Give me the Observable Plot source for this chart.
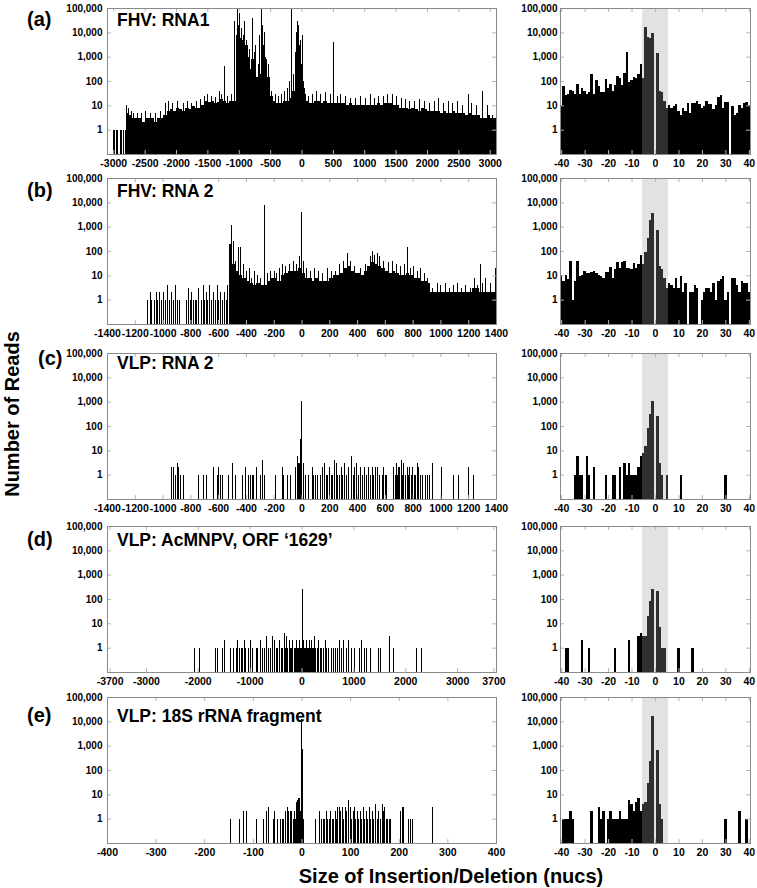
<!DOCTYPE html>
<html>
<head>
<meta charset="utf-8">
<script src="https://cdn.jsdelivr.net/npm/d3@7"></script>
<script src="https://cdn.jsdelivr.net/npm/@observablehq/plot@0.6"></script>
<style>
  html,body{margin:0;padding:0;background:#fff;}
  #wrap{position:relative;width:757px;height:888px;overflow:hidden;font-family:"Liberation Sans",Arial,sans-serif;}
</style>
</head>
<body>
<div id="wrap"></div>
<script>
// ---------------- DATA ----------------
const yDomain = [0.1, 100000];
const yTicks = [1, 10, 100, 1000, 10000, 100000];
const panelLetters = ["(a)", "(b)", "(c)", "(d)", "(e)"];
const panelTitles = ["FHV: RNA1", "FHV: RNA 2", "VLP: RNA 2", "VLP: AcMNPV, ORF \u20181629\u2019", "VLP: 18S rRNA fragment"];
const yTitle = "Number of Reads";
const xTitle = "Size of Insertion/Deletion (nucs)";

const leftDomains = [[-3100, 3100], [-1400, 1400], [-1400, 1400], [-3750, 3750], [-400, 400]];
const leftTicks = [
  [-3000, -2500, -2000, -1500, -1000, -500, 0, 500, 1000, 1500, 2000, 2500, 3000],
  [-1400, -1200, -1000, -800, -600, -400, -200, 0, 200, 400, 600, 800, 1000, 1200, 1400],
  [-1400, -1200, -1000, -800, -600, -400, -200, 0, 200, 400, 600, 800, 1000, 1200, 1400],
  [-3700, -3000, -2000, -1000, 0, 1000, 2000, 3000, 3700],
  [-400, -300, -200, -100, 0, 100, 200, 300, 400]
];
const rightDomain = [-40.5, 40.5];
const rightTicks = [-40, -30, -20, -10, 0, 10, 20, 30, 40];
const shadeRange = [-5.5, 5.5];

// (a) left: dense base histogram, bins of 50 starting at -2800
const binsAStart = -2800, binsAStep = 50;
const binsA = [5,4,3,3,3,2,3,3,3,2, 3,3,4,6,7,6,8,7,6,8,
  7,9,8,8,10,15,14,15,12,14, 18,15,12,15,15,600,6000,5000,3000,300,
  800,150,200,3000,800,150,25,15,12,12, 15,15,20,40,80,300,50,15,12,12,
  15,15,12,15,12,12,12,12,12,12, 10,12,10,10,10,10,10,10,10,10,
  12,10,12,12,12,10,10,8,8,8, 7,8,7,6,8,7,6,6,6,6,
  5,6,5,5,6,5,5,5,4,5, 4,4,4,3,3,4,3,3];
const spikesA = [[-3010,1],[-2985,1],[-2960,1],[-2935,1],[-2900,1],[-2870,1],[-2840,1],[-2815,1],
  [-2790,10],[-2760,8],[-2720,6],[-2680,5],[-2620,5],[-2560,5],[-2490,6],[-2410,5],[-2330,5],[-2260,6],
  [-2180,12],[-2120,15],[-2060,12],[-1980,15],[-1890,12],[-1820,15],[-1760,12],[-1680,15],[-1620,18],
  [-1560,25],[-1500,30],[-1440,25],[-1380,22],[-1320,40],[-1280,30],[-1236,400],[-1180,25],[-1130,30],
  [-1075,30000],[-1050,8000],[-1030,100000],[-1010,20000],[-990,60000],[-965,15000],[-940,8000],[-915,30000],
  [-890,5000],[-860,1000],[-830,2000],[-785,40000],[-760,1500],[-740,3000],[-700,500],[-670,8000],
  [-646,100000],[-625,20000],[-600,10000],[-575,1000],[-540,500],[-520,100],
  [-480,40],[-430,30],[-380,25],[-330,30],[-280,40],[-230,50],
  [-200,100],[-167,100000],[-140,200],[-110,1500],[-90,10000],[-70,30000],[-55,20000],[-40,3000],[-24,5000],
  [-10,500],[5,8000],[20,100],[60,30],[110,25],[160,30],[230,40],[300,30],[380,35],[450,30],
  [507,4000],[560,25],[620,30],[700,25],[780,20],[860,20],[930,25],[1010,20],[1090,30],[1150,20],
  [1220,25],[1300,25],[1360,30],[1438,30],[1500,25],[1580,20],[1650,18],[1720,15],[1800,15],[1880,18],
  [1950,15],[2040,12],[2110,15],[2180,20],[2250,12],[2330,15],[2400,12],[2480,15],[2560,10],[2650,30],
  [2700,12],[2780,10],[2873,40],[2950,10],[3040,4]];

// (b) left: bins of 25 starting at -525
const binsBStart = -525, binsBStep = 25;
const binsB = [200,30,15,10,8,6,5,4,5,4, 4,6,8,8,6,10,12,15,15,15,
  20,12,8,8,6,8,6,6,6,8, 10,10,12,20,25,15,12,12,10,15,
  25,35,30,25,20,15,12,15,12,10, 10,12,10,8,8,6,6,5,2,2,
  2,2,2,2,2,2,2,2,2,2, 3,3,2,2,2,2,2];
const spikesB = [[-1115,1],[-1090,2],[-1080,1],[-1065,1],[-1050,2],[-1040,1],[-1025,2],[-1010,1],[-1000,2],
  [-985,1],[-970,4],[-955,1],[-940,2],[-925,1],[-910,4],[-895,1],[-880,1],
  [-830,1],[-815,3],[-805,1],[-795,2],[-780,1],[-770,1],[-760,1],[-745,3],
  [-725,1],[-710,4],[-700,1],[-690,2],[-680,1],[-665,4],[-650,1],[-640,2],[-625,1],[-610,4],[-600,1],
  [-590,2],[-575,1],[-560,2],[-545,1],[-535,4],
  [-505,1200],[-495,250],[-480,40],[-460,150],[-443,150],[-420,30],[-400,15],[-380,20],[-360,8],[-340,15],
  [-320,10],[-300,8],[-268,8000],[-250,12],[-230,15],[-200,15],[-180,12],[-160,20],[-140,30],[-120,25],
  [-90,30],[-60,40],[-40,30],[-15,60],[-4,4000],[10,40],[30,20],[60,15],[90,20],[120,15],[150,12],
  [180,20],[210,15],[240,15],[270,30],[300,40],[325,80],[350,40],[380,25],[420,20],[455,30],[490,60],
  [505,100],[520,70],[541,80],[560,60],[590,40],[620,35],[650,40],[680,30],[710,25],[735,30],[757,150],
  [780,20],[800,25],[830,15],[853,20],[880,12],[905,8],[940,3],[973,5],[1000,4],[1030,5],[1060,3],
  [1090,4],[1120,5],[1150,3],[1180,4],[1210,3],[1240,8],[1260,4],[1285,30],[1300,5],[1320,8],[1357,5],[1393,20]];

// (c) left: individual reads
const spikesC = [[-942,2],[-927,2],[-911,1],[-899,3],[-887,2],[-875,1],[-851,1],[-747,1],[-707,1],[-688,1],
  [-635,2],[-611,1],[-599,2],[-587,1],[-575,1],[-527,1],[-498,3],[-479,1],[-431,1],[-407,2],[-383,1],
  [-371,1],[-359,1],[-347,1],[-328,2],[-299,1],[-287,4],[-268,1],[-191,1],[-143,2],[-131,1],[-107,1],
  [-83,1],[-47,2],[-35,6],[-23,3],[-16,3],[-11,30],[-6,300],[-4,1100],[8,3],[25,1],[49,1],[73,2],
  [85,1],[100,1],[115,1],[130,1],[145,2],[159,3],[175,1],[185,1],[196,2],[210,1],[220,1],[232,4],
  [245,3],[258,1],[270,1],[283,2],[295,1],[305,3],[320,1],[335,2],[354,6],[368,1],[380,2],[391,3],
  [405,1],[420,2],[435,1],[450,2],[465,1],[480,2],[495,1],[505,2],[515,1],[529,2],[540,1],[546,2],
  [560,1],[577,1],[589,2],[598,1],[608,1],[661,2],[670,1],[678,3],[685,1],[692,2],[698,1],[704,2],
  [716,4],[724,1],[733,3],[745,1],[757,2],[768,1],[776,2],[785,1],[793,2],[812,1],[820,1],[829,3],
  [841,2],[853,1],[870,1],[890,1],[906,1],[920,1],[937,3],[1002,2],[1093,1],[1129,1],[1201,2],[1237,1]];

// (d) left
const spikesD = [[-2066,1],[-1969,1],[-1667,1],[-1622,1],[-1538,1],[-1487,2],[-1378,1],[-1320,1],[-1270,1],
  [-1240,2],[-1200,1],[-1170,1],[-1140,1],[-1110,2],[-1080,1],[-1040,1],[-1000,2],[-960,1],[-880,1],
  [-850,1],[-800,2],[-760,1],[-720,1],[-690,3],[-640,1],[-600,1],[-560,3],[-530,2],[-500,1],[-470,1],
  [-440,2],[-400,1],[-370,1],[-340,4],[-310,1],[-290,3],[-270,1],[-250,2],[-220,1],[-200,1],[-180,2],
  [-150,1],[-130,1],[-110,2],[-90,1],[-70,1],[-50,2],[-30,1],[-10,1],[0,250],[15,1],[30,2],[45,1],
  [60,1],[80,2],[100,1],[120,1],[140,2],[160,1],[180,2],[200,1],[220,1],[240,3],[260,1],[290,1],
  [320,2],[350,1],[380,1],[420,1],[450,2],[480,1],[520,1],[560,1],[600,1],[640,1],[680,1],[720,2],
  [760,1],[800,2],[850,1],[900,2],[960,1],[1020,1],[1100,1],[1140,2],[1200,1],[1250,1],[1320,1],
  [1475,1],[1510,1],[1680,3],[1770,1],[2200,1],[2300,1]];

// (e) left
const spikesE = [[-148,1],[-128,1],[-121,2],[-114,2],[-94,1],[-79,1],[-74,2],[-68,3],[-59,1],[-57,2],
  [-51,1],[-44,1],[-41,1],[-38,1],[-34,2],[-30,3],[-27,2],[-24,2],[-21,2],[-18,1],[-15,2],[-13,1],
  [-11,5],[-9,6],[-7,7],[-5,7],[-3,2],[-2,230],[-1,12000],[1,700],[2,4],[3,1],[28,1],[35,2],[40,1],
  [44,1],[47,1],[50,2],[53,1],[56,1],[59,2],[62,1],[65,1],[68,2],[71,1],[74,3],[77,3],[80,2],[83,3],
  [86,1],[89,3],[92,2],[96,6],[99,3],[102,1],[105,2],[108,3],[111,1],[114,2],[117,1],[120,2],[123,1],
  [126,3],[129,1],[132,2],[135,1],[138,3],[141,1],[144,2],[148,1],[151,4],[155,1],[158,2],[161,1],
  [165,4],[168,2],[170,3],[173,1],[176,1],[179,1],[182,1],[203,2],[206,3],[209,3],[219,1],[223,1],
  [227,1],[268,3]];

// right panels: counts for sizes -40..40 (a, b) or [size, count] pairs (c, d, e)
const rightA = [10,65,27,30,42,40,30,75,30,50, 40,30,35,190,28,110,60,35,35,120,
  50,75,40,70,160,130,70,220,1600,90, 110,150,130,190,500,
  130,17000,6500,6000,9500,0,1400,40,35,15,8,
  10,8,9,11,6,4,8,6,12,5, 12,12,15,11,8,9,15,11,11,7, 10,22,27,8,14,14,0,9,4,5, 10,8,12,14,10];
const rightB = [10,6,10,7,40,1,6,40,9,10, 15,12,12,14,15,13,10,9,8,14,
  14,22,8,18,35,20,35,38,20,20, 18,32,20,28,70,
  28,90,350,1800,3800,0,750,25,18,8,3,
  5,4,3,8,3,9,2,5,0,2, 2,4,3,0,1,2,3,3,2,5, 1,6,7,9,1,2,0,8,8,4, 2,6,5,5,2];
const rightC = [[-34,1],[-33,6],[-32,1],[-31,1],[-29,6],[-28,1],[-26,2],[-21,1],[-18,1],[-17,1],[-15,2],
  [-13,3],[-12,1],[-11,3],[-10,1],[-9,1],[-8,1],[-7,2],[-6,6],[-5,8],[-4,15],[-3,80],[-2,320],[-1,1100],
  [1,250],[2,3],[3,1],[5,1],[11,1],[30,1]];
const rightD = [[-38,1],[-37,1],[-31,2],[-28,1],[-17,1],[-11,2],[-7,3],[-6,4],[-5,3],[-4,3],[-3,20],
  [-2,80],[-1,250],[1,220],[2,7],[3,1],[4,1],[10,1],[16,1]];
const rightE = [[-39,1],[-38,1],[-37,1],[-36,2],[-35,1],[-27,2],[-24,3],[-23,1],[-22,2],[-20,1],[-19,2],
  [-18,1],[-17,1],[-16,1],[-15,2],[-14,1],[-13,1],[-12,1],[-11,6],[-10,4],[-9,2],[-8,5],[-7,7],[-6,2],
  [-5,4],[-4,5],[-3,30],[-2,230],[-1,16000],[1,650],[2,4],[3,1],[30,1],[36,2],[39,1]];

// ---------------- LAYOUT ----------------
const rowTops = [8, 178, 353, 526, 697];
const MT = 8, FH = 146, MB = 24;
const G_LEFT = {left: 0, width: 500, ml: 107, mr: 4, tp: 5};
const G_RIGHT = {left: 500, width: 257, ml: 60, mr: 7, tp: 3};
const FONT = "Liberation Sans, Arial, Helvetica, sans-serif";

const wrap = document.getElementById("wrap");

function makePanel(g, xDomain, xTicks, dataMarks, top) {
  const pxW = g.width - g.ml - g.mr;
  const xTickLen = 4 * (xDomain[1] - xDomain[0]) / pxW;
  const yTickFactor = Math.pow(10, 4 * 6 / FH);
  const tickStroke = "#b5b5b5";
  const svg = Plot.plot({
    width: g.width,
    height: MT + FH + MB,
    marginTop: MT, marginBottom: MB, marginLeft: g.ml, marginRight: g.mr,
    x: {domain: xDomain, type: "linear"},
    y: {type: "log", domain: yDomain},
    style: {fontFamily: FONT, fontWeight: "bold", color: "#000", background: "transparent", overflow: "visible"},
    marks: [
      ...dataMarks,
      Plot.ruleX(xTicks, {x: d => d, y1: yDomain[0], y2: yDomain[0] * yTickFactor, stroke: tickStroke}),
      Plot.ruleX(xTicks, {x: d => d, y1: yDomain[1] / yTickFactor, y2: yDomain[1], stroke: tickStroke}),
      Plot.ruleY(yTicks, {y: d => d, x1: xDomain[0], x2: xDomain[0] + xTickLen, stroke: tickStroke}),
      Plot.ruleY(yTicks, {y: d => d, x1: xDomain[1] - xTickLen, x2: xDomain[1], stroke: tickStroke}),
      Plot.frame({stroke: "#8a8a8a"}),
      Plot.axisX(xTicks, {tickSize: 0, tickPadding: 5, tickFormat: d => String(d), fontSize: 10.5, label: null}),
      Plot.axisY(yTicks, {tickSize: 0, tickPadding: g.tp, tickFormat: d3.format(","), fontSize: 10, label: null})
    ]
  });
  svg.style.position = "absolute";
  svg.style.left = g.left + "px";
  svg.style.top = (top - MT) + "px";
  wrap.appendChild(svg);
}

function binMarks(bins, start, step) {
  const data = bins.map((v, k) => ({x1: start + k * step, x2: start + (k + 1) * step, v})).filter(d => d.v > 0);
  return Plot.rect(data, {x1: "x1", x2: "x2", y1: yDomain[0], y2: "v", fill: "#000", shapeRendering: "crispEdges", clip: true});
}
function spikeMarks(spikes, color) {
  return Plot.ruleX(spikes, {x: d => d[0], y1: yDomain[0], y2: d => d[1], stroke: color || "#000", strokeWidth: 1, shapeRendering: "crispEdges", clip: true});
}
function rightMarks(pairs) {
  const data = pairs.filter(d => d[1] > 0);
  return [
    Plot.rect([shadeRange], {x1: d => d[0], x2: d => d[1], y1: yDomain[0], y2: yDomain[1], fill: "#e2e2e2"}),
    Plot.rect(data, {x1: d => d[0] - 0.5, x2: d => d[0] + 0.5, y1: yDomain[0], y2: d => d[1],
      fill: d => (d[0] >= shadeRange[0] && d[0] <= shadeRange[1]) ? "#2f2f2f" : "#000", shapeRendering: "crispEdges", clip: true})
  ];
}
const toPairs = arr => arr.map((v, k) => [rightDomain[0] + 0.5 + k, v]);

const leftMarks = [
  [binMarks(binsA, binsAStart, binsAStep), spikeMarks(spikesA)],
  [binMarks(binsB, binsBStart, binsBStep), spikeMarks(spikesB)],
  [spikeMarks(spikesC)],
  [spikeMarks(spikesD)],
  [spikeMarks(spikesE)]
];
const rightSets = [toPairs(rightA), toPairs(rightB), rightC, rightD, rightE];

for (let i = 0; i < 5; i++) {
  makePanel(G_LEFT, leftDomains[i], leftTicks[i], leftMarks[i], rowTops[i]);
  makePanel(G_RIGHT, rightDomain, rightTicks, rightMarks(rightSets[i]), rowTops[i]);
}

// ---------------- TEXT OVERLAY ----------------
const letterPos = [[27, 26], [27, 197], [38, 365], [27, 546], [27, 722]];
const titleBase = [26, 197, 369, 546, 722];
const ov = d3.create("svg")
  .attr("width", 757).attr("height", 888)
  .style("position", "absolute").style("left", "0px").style("top", "0px")
  .attr("font-family", FONT).attr("font-weight", "bold").attr("fill", "#000");
panelLetters.forEach((t, i) => {
  ov.append("text").attr("x", letterPos[i][0]).attr("y", letterPos[i][1]).attr("font-size", 20).text(t);
});
panelTitles.forEach((t, i) => {
  ov.append("text").attr("x", 117).attr("y", titleBase[i]).attr("font-size", 17.5).text(t);
});
ov.append("text").attr("transform", "translate(19,414) rotate(-90)").attr("text-anchor", "middle")
  .attr("font-size", 20).text(yTitle);
ov.append("text").attr("x", 451).attr("y", 883).attr("text-anchor", "middle").attr("font-size", 20).text(xTitle);
wrap.appendChild(ov.node());
</script>
</body>
</html>
